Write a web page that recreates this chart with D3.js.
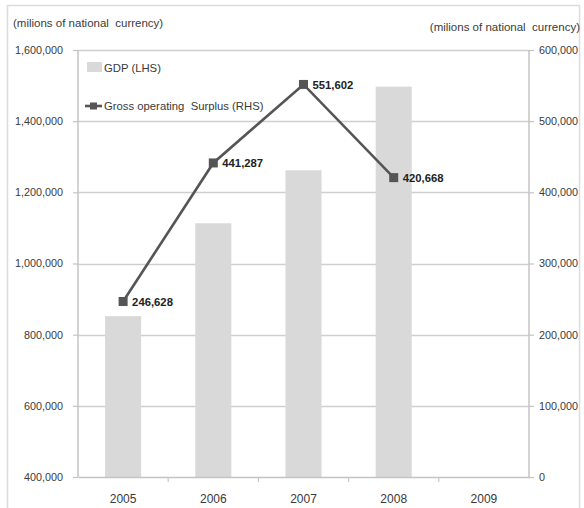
<!DOCTYPE html>
<html>
<head>
<meta charset="utf-8">
<script src="https://cdn.jsdelivr.net/npm/d3@7"></script>
<style>
  html, body { margin: 0; padding: 0; background: #fff; }
  svg text { font-family: "Liberation Sans", Arial, sans-serif; white-space: pre; }
</style>
</head>
<body>
<svg id="chart" width="584" height="508"></svg>
<script>
// Years on the category axis
const years = ["2005", "2006", "2007", "2008", "2009"];
// GDP, millions of national currency (left axis)
const gdp = [852000, 1113000, 1262000, 1497000, null];
// Gross operating surplus, millions of national currency (right axis)
const gos = [246628, 441287, 551602, 420668, null];
// Tick values for both value axes
const leftTicks = [400000, 600000, 800000, 1000000, 1200000, 1400000, 1600000];
const rightTicks = [0, 100000, 200000, 300000, 400000, 500000, 600000];

const unitLabel = "(milions of national  currency)";
const legendLabels = ["GDP (LHS)", "Gross operating  Surplus (RHS)"];

const svg = d3.select("#chart");
const plot = { left: 78, right: 529, top: 50, bottom: 477 };
const textColor = "#3a3a3a";

const fmt = d3.format(",");

const x = d3.scaleBand().domain(years).range([plot.left, plot.right]).paddingInner(0).paddingOuter(0);
const yL = d3.scaleLinear().domain([400000, 1600000]).range([plot.bottom, plot.top]);
const yR = d3.scaleLinear().domain([0, 600000]).range([plot.bottom, plot.top]);

// outer frame
svg.append("rect")
  .attr("x", 7.5).attr("y", 5.5).attr("width", 572).attr("height", 520)
  .attr("fill", "none").attr("stroke", "#dcdcdc").attr("stroke-width", 1.5);

// horizontal gridlines
svg.append("g").selectAll("line").data(leftTicks.slice(1)).join("line")
  .attr("x1", plot.left).attr("x2", plot.right)
  .attr("y1", d => Math.round(yL(d)) + 0.5).attr("y2", d => Math.round(yL(d)) + 0.5)
  .attr("stroke", "#cfcfcf").attr("stroke-width", 1.5);

// GDP bars
const barW = x.bandwidth() * 0.4;
svg.append("g").selectAll("rect").data(years.map((y, i) => ({ y, v: gdp[i] })).filter(d => d.v != null)).join("rect")
  .attr("x", d => x(d.y) + (x.bandwidth() - barW) / 2)
  .attr("width", barW)
  .attr("y", d => yL(d.v))
  .attr("height", d => yL(400000) - yL(d.v))
  .attr("fill", "#d9d9d9");

// left axis
const axL = svg.append("g").attr("transform", `translate(${plot.left},0)`)
  .call(d3.axisLeft(yL).tickValues(leftTicks).tickFormat(fmt).tickSize(5).tickPadding(10));
// right axis
const axR = svg.append("g").attr("transform", `translate(${plot.right},0)`)
  .call(d3.axisRight(yR).tickValues(rightTicks).tickFormat(fmt).tickSize(5).tickPadding(5));
// bottom axis with ticks between categories
const axB = svg.append("g").attr("transform", `translate(0,${plot.bottom})`)
  .call(d3.axisBottom(x).tickSize(0).tickPadding(17));
svg.append("g").selectAll("line").data(years.slice(1)).join("line")
  .attr("x1", d => x(d)).attr("x2", d => x(d))
  .attr("y1", plot.bottom).attr("y2", plot.bottom + 5)
  .attr("stroke", "#c8c8c8").attr("stroke-width", 1.2);

[axL, axR, axB].forEach(g => {
  g.selectAll(".domain").attr("stroke", "#c4c4c4").attr("stroke-width", 1.5);
  g.selectAll(".tick line").attr("stroke", "#c4c4c4").attr("stroke-width", 1.2);
  g.selectAll("text").attr("font-size", 10.8).attr("fill", textColor)
    .style("font-family", '"Liberation Sans", Arial, sans-serif');
});
axB.selectAll("text").attr("font-size", 12);
axL.select(".domain").attr("d", `M0,${plot.bottom}V${plot.top}`);
axR.select(".domain").attr("d", `M0,${plot.bottom}V${plot.top}`);

// gross operating surplus line
const pts = years.map((y, i) => ({ y, v: gos[i] })).filter(d => d.v != null);
const line = d3.line().x(d => x(d.y) + x.bandwidth() / 2).y(d => yR(d.v));
svg.append("path").datum(pts)
  .attr("d", line).attr("fill", "none")
  .attr("stroke", "#555555").attr("stroke-width", 2.6).attr("stroke-linejoin", "miter");
svg.append("g").selectAll("rect").data(pts).join("rect")
  .attr("x", d => x(d.y) + x.bandwidth() / 2 - 4.5)
  .attr("y", d => yR(d.v) - 4.5)
  .attr("width", 9).attr("height", 9)
  .attr("fill", "#555555");
svg.append("g").selectAll("text").data(pts).join("text")
  .attr("x", d => x(d.y) + x.bandwidth() / 2 + 9)
  .attr("y", d => yR(d.v) + 4.5)
  .attr("font-size", 11.3).attr("font-weight", "bold").attr("fill", "#222")
  .text(d => fmt(d.v));

// unit captions
svg.append("text").attr("x", 13).attr("y", 27).attr("font-size", 11.5).attr("fill", textColor).text(unitLabel);
svg.append("text").attr("x", 580).attr("y", 31).attr("text-anchor", "end").attr("font-size", 11.5).attr("fill", textColor).text(unitLabel);

// legend
const lg = svg.append("g");
lg.append("rect").attr("x", 87).attr("y", 62).attr("width", 15).attr("height", 10).attr("fill", "#d9d9d9");
lg.append("text").attr("x", 104).attr("y", 72).attr("font-size", 11.3).attr("fill", textColor).text(legendLabels[0]);
lg.append("line").attr("x1", 85).attr("x2", 102).attr("y1", 106).attr("y2", 106)
  .attr("stroke", "#555555").attr("stroke-width", 2.6);
lg.append("rect").attr("x", 90).attr("y", 102.5).attr("width", 7).attr("height", 7).attr("fill", "#555555");
lg.append("text").attr("x", 104).attr("y", 110).attr("font-size", 11.3).attr("fill", textColor).text(legendLabels[1]);
</script>
</body>
</html>
